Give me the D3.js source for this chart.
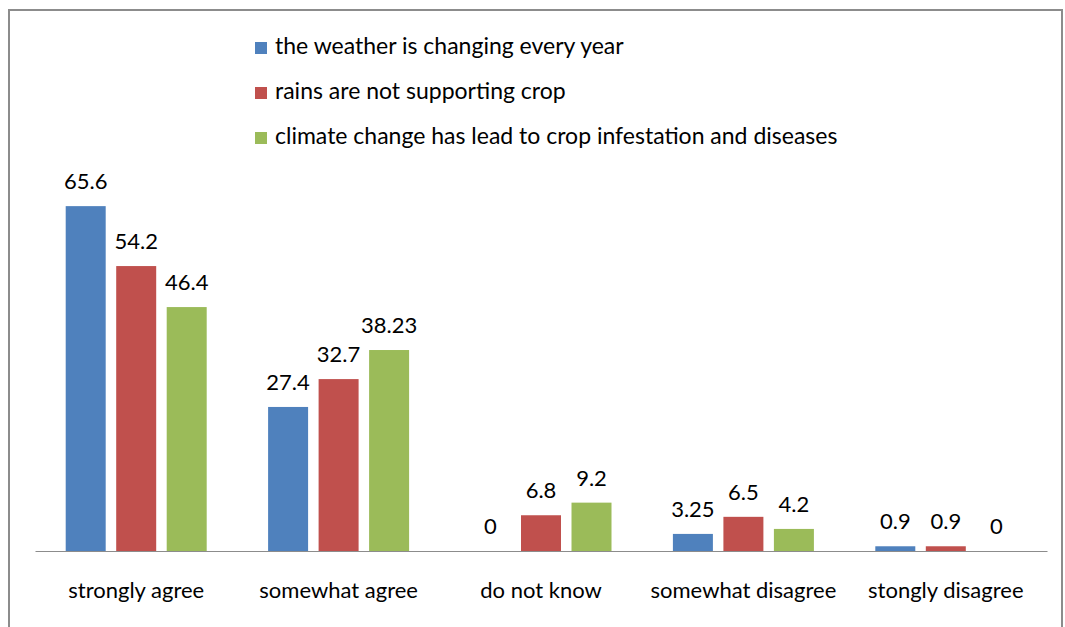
<!DOCTYPE html>
<html>
<head>
<meta charset="utf-8">
<script src="https://cdn.jsdelivr.net/npm/d3@7"></script>
<style>
  body { margin: 0; background: #fff; }
  svg { display: block; }
</style>
</head>
<body>
<div id="vis"></div>
<script>
var width = 1065;
var height = 627;

var categories = ["strongly agree", "somewhat agree", "do not know", "somewhat disagree", "stongly disagree"];
var seriesNames = [
  "the weather is changing every year",
  "rains are not supporting crop",
  "climate change has lead to crop infestation and diseases"
];
var weatherValues = [65.6, 27.4, 0, 3.25, 0.9];
var rainsValues = [54.2, 32.7, 6.8, 6.5, 0.9];
var climateValues = [46.4, 38.23, 9.2, 4.2, 0];
var colors = ["#4F81BD", "#C0504D", "#9BBB59"];

var series = [weatherValues, rainsValues, climateValues];

var font = "Lato, 'Open Sans', sans-serif";

var svg = d3.select("#vis")
  .append("svg")
  .attr("width", width)
  .attr("height", height);

// chart frame
svg.append("rect")
  .attr("x", 9)
  .attr("y", 10)
  .attr("width", 1053)
  .attr("height", 640)
  .attr("fill", "none")
  .attr("stroke", "#8c8c8c")
  .attr("stroke-width", 2);

var x0 = d3.scaleBand()
  .domain(categories)
  .range([35, 1047]);

var x1 = d3.scaleBand()
  .domain(d3.range(series.length))
  .range([x0.bandwidth() / 2 - 70.5, x0.bandwidth() / 2 + 70.5])
  .paddingInner(0.208);

var y = d3.scaleLinear()
  .domain([0, 70])
  .range([551, 183]);

var groups = svg.append("g")
  .selectAll("g")
  .data(categories)
  .enter()
  .append("g")
  .attr("transform", d => `translate(${x0(d)},0)`);

groups.selectAll("rect")
  .data((c, i) => series.map((s, k) => ({k: k, v: s[i]})))
  .enter()
  .append("rect")
  .attr("x", d => x1(d.k))
  .attr("y", d => y(d.v))
  .attr("width", x1.bandwidth())
  .attr("height", d => y(0) - y(d.v))
  .attr("fill", d => colors[d.k]);

groups.selectAll("text")
  .data((c, i) => series.map((s, k) => ({k: k, v: s[i]})))
  .enter()
  .append("text")
  .attr("x", d => x1(d.k) + x1.bandwidth() / 2)
  .attr("y", d => y(d.v) - 17)
  .attr("text-anchor", "middle")
  .style("font", `22px ${font}`)
  .attr("fill", "#000")
  .text(d => d.v);

// x axis
var xAxis = svg.append("g")
  .attr("transform", `translate(0,${y(0)})`)
  .call(d3.axisBottom(x0).tickSize(0).tickPadding(31));

xAxis.select(".domain").attr("stroke", "#8c8c8c").attr("stroke-width", 1.2);
xAxis.selectAll("text")
  .style("font", `22px ${font}`)
  .attr("fill", "#000");

// legend
var legend = svg.append("g")
  .selectAll("g")
  .data(seriesNames)
  .enter()
  .append("g")
  .attr("transform", (d, i) => `translate(255,${48 + i * 45})`);

legend.append("rect")
  .attr("x", 0)
  .attr("y", -6)
  .attr("width", 12)
  .attr("height", 12)
  .attr("fill", (d, i) => colors[i]);

legend.append("text")
  .attr("x", 20)
  .attr("y", -2)
  .attr("dy", "0.35em")
  .style("font", `23px ${font}`)
  .attr("fill", "#000")
  .text(d => d);
</script>
</body>
</html>
